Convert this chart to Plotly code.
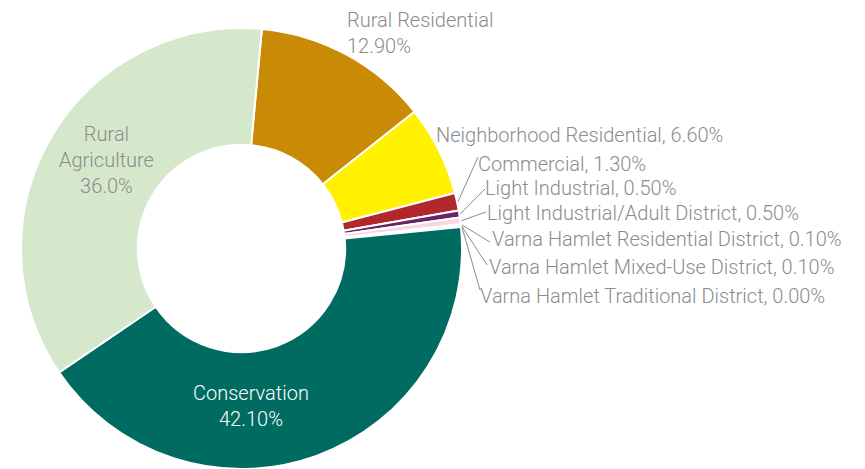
import math
import plotly.graph_objects as go

categories = ["Rural Residential", "Neighborhood Residential", "Commercial", "Light Industrial",
              "Light Industrial/Adult District", "Varna Hamlet Residential District",
              "Varna Hamlet Mixed-Use District", "Varna Hamlet Traditional District",
              "Conservation", "Rural Agriculture"]
values = [12.9, 6.6, 1.3, 0.5, 0.5, 0.1, 0.1, 0.0, 42.1, 36.0]
value_labels = ["12.90%", "6.60%", "1.30%", "0.50%", "0.50%", "0.10%", "0.10%", "0.00%", "42.10%", "36.0%"]
colors = ["#C98A06", "#FFF100", "#B0282D", "#6B2462", "#F6D8E3", "#DE7FA3", "#F9E4EC", "#FFFFFF",
          "#006B60", "#D5E8CB"]

# layout: figure size, page offset (body margin), pie geometry (screen pixels from top-left)
W, H = 865, 469
OFF = 8
CX, CY, R = 241.5, 248.5, 220.5
ROTATION = 5.3
HOLE = 0.47
FONT = "Roboto"
FSIZE = 20
GRAY = "#8C8C8C"


def px(x):
    return (x - OFF) / W


def py(y):
    return 1 - (y - OFF) / H


# label layout: (text template, anchor x px, anchor y px, xanchor, leader end x, leader end y, color)
label_layout = {
    "Rural Residential": ("{c}<br>{v}", 345, 33, "left", None, None, GRAY),
    "Neighborhood Residential": ("{c}, {v}", 434, 135, "left", None, None, GRAY),
    "Commercial": ("{c}, {v}", 476, 164, "left", 478, 157, GRAY),
    "Light Industrial": ("{c}, {v}", 483, 188, "left", 485, 189, GRAY),
    "Light Industrial/Adult District": ("{c}, {v}", 485, 213, "left", 486, 212, GRAY),
    "Varna Hamlet Residential District": ("{c}, {v}", 490, 239, "left", 490, 242, GRAY),
    "Varna Hamlet Mixed-Use District": ("{c}, {v}", 487, 267, "left", 487, 265, GRAY),
    "Varna Hamlet Traditional District": ("{c}, {v}", 478, 296, "left", 480, 290, GRAY),
    "Conservation": ("{c}<br>{v}", 251, 406, "center", None, None, "#FFFFFF"),
    "Rural Agriculture": ("Rural<br>Agriculture<br>{v}", 106, 160, "center", None, None, GRAY),
}

fig = go.Figure(go.Pie(
    labels=categories,
    values=values,
    textinfo="none",
    marker=dict(colors=colors, line=dict(color="#FFFFFF", width=2)),
    hole=HOLE,
    sort=False,
    direction="clockwise",
    rotation=ROTATION,
    showlegend=False,
    hoverinfo="label+percent",
    domain=dict(x=[px(CX - R), px(CX + R)], y=[py(CY + R), py(CY - R)]),
))

total = sum(values)
cum = 0.0
annotations = []
shapes = []
for c, v, vl in zip(categories, values, value_labels):
    mid = ROTATION + (cum + v / 2) / total * 360.0
    cum += v
    tmpl, ax, ay, xanch, lx, ly, col = label_layout[c]
    annotations.append(dict(
        text=tmpl.format(c=c, v=vl), x=px(ax), y=py(ay), xref="paper", yref="paper",
        xanchor=xanch, yanchor="middle", align=xanch if xanch != "center" else "center",
        showarrow=False, font=dict(family=FONT, size=FSIZE, color=col, weight=300),
    ))
    if lx is not None:
        a = math.radians(mid)
        tx = CX + (R + 1) * math.sin(a)
        ty = CY - (R + 1) * math.cos(a)
        shapes.append(dict(type="line", xref="paper", yref="paper",
                           x0=px(tx), y0=py(ty), x1=px(lx), y1=py(ly),
                           line=dict(color=GRAY, width=1)))

fig.update_layout(
    width=W, height=H,
    margin=dict(l=0, r=0, t=0, b=0),
    paper_bgcolor="white",
    plot_bgcolor="white",
    annotations=annotations,
    shapes=shapes,
    font=dict(family=FONT, color=GRAY),
)
fig.write_html("out.html")
